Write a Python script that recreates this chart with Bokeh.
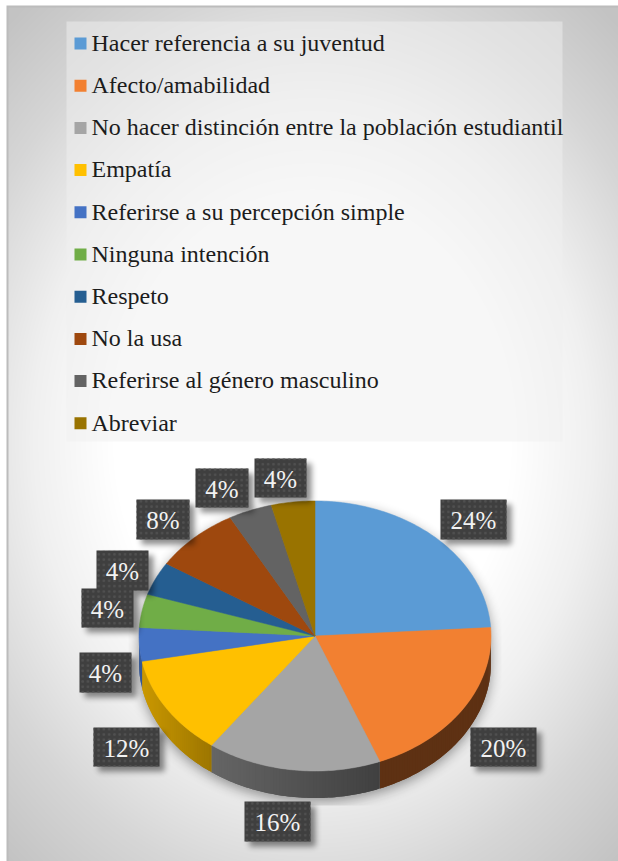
import numpy as np
from bokeh.core.properties import value
from bokeh.embed import file_html
from bokeh.models import ColumnDataSource, Range1d
from bokeh.plotting import figure
from bokeh.resources import INLINE

# Survey answers and their shares in percent, clockwise from twelve o'clock
categories = [
    "Hacer referencia a su juventud",
    "Afecto/amabilidad",
    "No hacer distinción entre la población estudiantil",
    "Empatía",
    "Referirse a su percepción simple",
    "Ninguna intención",
    "Respeto",
    "No la usa",
    "Referirse al género masculino",
    "Abreviar",
]
shares = [24, 20, 16, 12, 4, 4, 4, 8, 4, 4]
slice_colors = ["#5b9bd5", "#f28031", "#a5a5a5", "#ffc000", "#4472c4",
                "#70ad47", "#255e91", "#9e480e", "#636363", "#997300"]

# Page layout in pixels
W, H = 618, 861
CX, CY, RX, RY, DEPTH = 314.5, 635.5, 176.0, 135.0, 27.0
LEGEND_BOX = (66, 21, 562, 441)
LEGEND_Y0, LEGEND_STEP = 42.2, 42.2
# Label boxes: left, top, right, bottom
label_boxes = [(440, 499, 506, 539), (470, 727, 536, 766), (244, 801, 310, 841),
               (93, 727, 159, 766), (79, 652, 131, 692), (81, 588, 133, 627),
               (96, 550, 148, 590), (136, 499, 189, 539), (195, 468, 248, 507),
               (254, 458, 306, 497)]


def blur(a, sigma):
    r = int(3 * sigma)
    k = np.exp(-0.5 * (np.arange(-r, r + 1) / sigma) ** 2)
    k /= k.sum()
    a = np.apply_along_axis(lambda v: np.convolve(v, k, mode="same"), 0, a)
    return np.apply_along_axis(lambda v: np.convolve(v, k, mode="same"), 1, a)


def rgba(r, g, b, a):
    out = np.zeros((H, W, 4), dtype=np.uint8)
    out[..., 0], out[..., 1], out[..., 2] = r, g, b
    out[..., 3] = np.clip(a, 0, 255)
    return out.view(dtype=np.uint32).reshape(H, W)


yy, xx = np.mgrid[0:H, 0:W] + 0.5

# Page backdrop: radial white-to-grey fill inside a thin frame
t = np.sqrt(((xx - 312) / 400) ** 2 + ((yy - 440) / 490) ** 2)
grey = np.interp(t, [0.0, 0.5, 0.7, 0.93, 1.15], [255, 255, 240, 214, 195])
frame = (xx >= 6) & (yy >= 5)
edge = frame & ((xx < 8) | (yy < 7))
grey = np.where(frame, grey, 255)
grey = np.where(edge, 188, grey)
backdrop = rgba(grey, grey, grey, 255 * np.ones_like(grey))

# Soft shadow of the pie, cut off by its rectangular effect box
inside = (((xx - CX) / RX) ** 2 + ((yy - CY) / RY) ** 2 <= 1)
inside |= (((xx - CX) / RX) ** 2 + ((yy - CY - DEPTH) / RY) ** 2 <= 1)
inside |= (np.abs(xx - CX) <= RX) & (yy >= CY) & (yy <= CY + DEPTH)
pie_shadow = blur(np.roll(inside.astype(float), 4, axis=0), 6.0) * 100
pie_shadow[(xx < 128) | (xx > 501) | (yy > 805) | (yy < 500)] = 0
pie_shadow_img = rgba(0, 0, 0, pie_shadow)

# Soft shadow under the label boxes
mask = np.zeros((H, W))
for l, tp, r, b in label_boxes:
    mask[tp + 5:b + 5, l + 5:r + 5] = 1
label_shadow_img = rgba(0, 0, 0, blur(mask, 3.0) * 115)

# Slice geometry on the tilted ellipse
fractions = np.cumsum([0] + shares) / sum(shares)
angles = fractions * 2 * np.pi


def ell(theta, dy=0.0):
    return CX + RX * np.sin(theta), CY + dy - RY * np.cos(theta)


def shade(hex_color, x):
    f = np.interp(x - CX, [-175, -105, 65, 175], [0.8, 0.62, 0.39, 0.39])
    c = [int(hex_color[i:i + 2], 16) for i in (1, 3, 5)]
    return "#%02x%02x%02x" % tuple(int(v * f) for v in c)


# Wall strips overlap their neighbour so no seams show between them
wall_x, wall_y, wall_c = [], [], []
for color, a0, a1 in zip(slice_colors, angles[:-1], angles[1:]):
    lo, hi = max(a0, np.pi / 2), min(a1, 3 * np.pi / 2)
    if hi <= lo:
        continue
    n = max(2, int(np.degrees(hi - lo)))
    steps = np.linspace(lo, hi, n + 1)
    for i, (s0, s1) in enumerate(zip(steps[:-1], steps[1:])):
        s_end = steps[min(i + 2, n)]
        x0, y0 = ell(s0)
        xm, ym = ell(s1)
        x1, y1 = ell(s_end)
        wall_x.append([x0, xm, x1, x1, xm, x0])
        wall_y.append([y0, ym, y1, y1 + DEPTH, ym + DEPTH, y0 + DEPTH])
        wall_c.append(shade(color, (x0 + xm) / 2))

top_x, top_y = [], []
for a0, a1 in zip(angles[:-1], angles[1:]):
    th = np.linspace(a0, a1, max(3, int(np.degrees(a1 - a0)) + 1))
    ex, ey = ell(th)
    top_x.append([CX] + list(ex))
    top_y.append([CY] + list(ey))

p = figure(width=W, height=H, x_range=Range1d(0, W), y_range=Range1d(H, 0),
           output_backend="svg", toolbar_location=None, min_border=0,
           background_fill_color="white", border_fill_color="white",
           outline_line_color=None)
p.axis.visible = False
p.grid.visible = False

p.image_rgba(image=[backdrop], x=0, y=0, dw=W, dh=H)
p.image_rgba(image=[pie_shadow_img], x=0, y=0, dw=W, dh=H)

p.patches(wall_x, wall_y, fill_color=wall_c, line_color=None)
p.patches(top_x, top_y, fill_color=slice_colors, line_color=slice_colors, line_width=0.5)

# Legend panel with its keys and entries
x0, y0, x1, y1 = LEGEND_BOX
p.quad(left=[x0], right=[x1], top=[y0], bottom=[y1], fill_color="#efefef",
       fill_alpha=0.5, line_color=None)
rows = [LEGEND_Y0 + i * LEGEND_STEP for i in range(len(categories))]
p.quad(left=[74] * 10, right=[86] * 10, top=[r - 5.2 for r in rows],
       bottom=[r + 6.8 for r in rows], fill_color=slice_colors, line_color=None)
p.text(x=[91] * 10, y=rows, text=categories, text_font=value("Liberation Serif"),
       text_font_size="24px", text_color="#1c1c1c", text_baseline="middle",
       text_align="left")

# Percentage labels on dark dotted boxes
p.image_rgba(image=[label_shadow_img], x=0, y=0, dw=W, dh=H)
src = ColumnDataSource(dict(
    left=[b[0] for b in label_boxes], top=[b[1] for b in label_boxes],
    right=[b[2] for b in label_boxes], bottom=[b[3] for b in label_boxes],
    cx=[(b[0] + b[2]) / 2 for b in label_boxes],
    cy=[(b[1] + b[3]) / 2 + 1 for b in label_boxes],
    label=[f"{s}%" for s in shares],
))
p.quad(left="left", right="right", top="top", bottom="bottom", source=src,
       fill_color="#3f3f3f", line_color=None, hatch_pattern="dot",
       hatch_color="#505050", hatch_scale=5.3, hatch_weight=1)
p.text(x="cx", y="cy", text="label", source=src, text_font=value("Liberation Serif"),
       text_font_size="25px", text_color="#f2f2f2", text_align="center",
       text_baseline="middle")

open("out.html", "w").write(file_html(p, INLINE))
